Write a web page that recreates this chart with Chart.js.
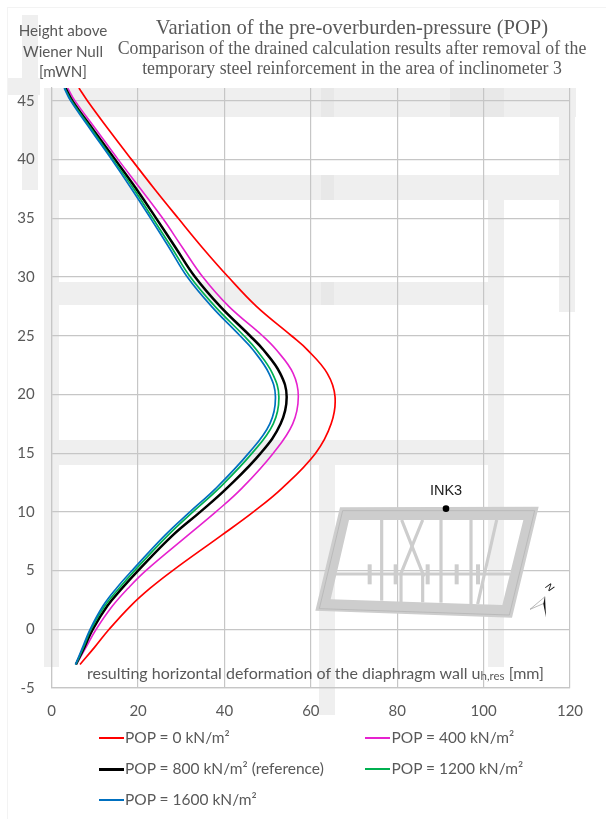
<!DOCTYPE html>
<html>
<head>
<meta charset="utf-8">
<title>Variation of the pre-overburden-pressure (POP)</title>
<script src="https://cdn.jsdelivr.net/npm/chart.js@4/dist/chart.umd.min.js"></script>
<style>
  html, body { margin: 0; padding: 0; background: #fff; }
  #page { position: relative; width: 606px; height: 819px; overflow: hidden; color: #595959; font-family: Lato, sans-serif; }
  #page canvas { position: absolute; left: 0; top: 0; }
  .label { position: absolute; white-space: nowrap; line-height: 1; }
  .head { font-family: "Liberation Serif", serif; transform: translateX(-50%); left: 352px; }
  .legend-line { position: absolute; height: 2px; width: 25px; }
  sub { font-size: 0.72em; vertical-align: -0.1em; line-height: 0; }
</style>
</head>
<body>
<div id="page">
  <canvas id="chart" width="606" height="819"></canvas>
  <div class="label head" style="top:17px;font-size:20.6px">Variation of the pre-overburden-pressure (POP)</div>
  <div class="label head" style="top:40px;font-size:17.8px">Comparison of the drained calculation results after removal of the</div>
  <div class="label head" style="top:60px;font-size:17.8px">temporary steel reinforcement in the area of inclinometer 3</div>
  <div class="label" style="left:63px;top:20px;font-size:15.2px;transform:translateX(-50%);text-align:center;line-height:20.5px">Height above<br>Wiener Null<br>[mWN]</div>
  <div class="label" style="left:87px;top:665px;font-size:16px">resulting horizontal deformation of the diaphragm wall u<sub>h,res</sub> [mm]</div>
  <div id="legend"></div>
</div>
<script>
// Values, x in mm at the listed heights
const heights = [-3, -1.5, 0, 2, 3.5, 5, 8, 10, 12, 15, 17.5, 19.8, 21.8, 23.8, 25, 27.5, 30, 32.5, 35, 37.5, 40, 42.5, 45, 46.1];
const pop0 = [6.55, 10, 13.3, 18.3, 22.8, 28, 39.3, 46.7, 53.3, 61.1, 64.7, 65.6, 63.8, 59.2, 55.5, 47.4, 40.9, 34.9, 29.3, 23.8, 18.5, 13.3, 8.3, 6.3];
const pop400 = [5.7, 8, 10.3, 14.1, 17.7, 21.8, 31.5, 38, 44, 51.3, 55.8, 57.1, 55.9, 52, 48.8, 41, 35, 30.3, 25.7, 20.6, 15.4, 10.4, 5.4, 3.7];
const pop800 = [5.6, 7.6, 9.5, 12.9, 16.3, 20, 28, 34.4, 40.5, 48.4, 53, 54.4, 52.9, 49, 45.9, 39, 33.2, 28.7, 24.2, 19.6, 14.7, 9.7, 4.8, 3.2];
const pop1200 = [5.6, 7.4, 9.1, 12.3, 15.6, 19.2, 26.9, 32.7, 38.7, 46.4, 51.3, 52.6, 51.1, 47.4, 44.5, 37.8, 32.1, 27.8, 23.4, 19, 14.2, 9.4, 4.6, 3];
const pop1600 = [5.5, 7.2, 8.9, 11.9, 15, 18.6, 26.2, 32, 38, 45.6, 50.5, 51.8, 50.3, 46.6, 43.6, 37, 31.4, 27.2, 22.9, 18.5, 13.9, 9.1, 4.4, 2.9];

const seriesLabels = ['POP = 0 kN/m²', 'POP = 400 kN/m²', 'POP = 800 kN/m² (reference)', 'POP = 1200 kN/m²', 'POP = 1600 kN/m²'];
const seriesValues = [pop0, pop400, pop800, pop1200, pop1600];
const seriesColors = ['#ff0000', '#e622cf', '#000000', '#00b050', '#0070c0'];
const seriesWidths = [1.7, 1.6, 2.5, 1.7, 1.7];

const xTicks = [0, 20, 40, 60, 80, 100, 120];
const yTicks = [-5, 0, 5, 10, 15, 20, 25, 30, 35, 40, 45];

const GRID = '#c6c6c6';
const WASH = '#efefef';

// Faint building plan behind the chart
const planBackground = {
  id: 'planBackground',
  beforeDraw(chart) {
    const ctx = chart.ctx;
    ctx.save();
    ctx.fillStyle = '#f3f3f3';
    ctx.fillRect(7, 7, 599, 1);
    ctx.fillRect(7, 7, 1, 812);
    ctx.fillStyle = WASH;
    [
      [52, 88, 524, 29], [22, 15, 16, 175], [8, 78, 32, 17],
      [59, 175, 501, 25], [59, 282, 431, 23], [59, 440, 429, 25],
      [44, 88, 15, 579], [488, 200, 16, 467], [319, 440, 16, 275], [559, 88, 16, 224]
    ].forEach(r => ctx.fillRect(r[0], r[1], r[2], r[3]));
    ctx.fillStyle = '#e8e8e8';
    [[321, 88, 13, 29], [450, 88, 54, 29], [321, 175, 13, 25], [321, 282, 13, 23]]
      .forEach(r => ctx.fillRect(r[0], r[1], r[2], r[3]));
    ctx.restore();
  }
};

// Location sketch of the excavation with the inclinometer position
const locationSketch = {
  id: 'locationSketch',
  beforeDatasetsDraw(chart) {
    const ctx = chart.ctx;
    const px = x => 300 + x / 3;
    const py = y => 470 + y / 3;
    const poly = pts => {
      ctx.moveTo(px(pts[0][0]), py(pts[0][1]));
      pts.slice(1).forEach(p => ctx.lineTo(px(p[0]), py(p[1])));
      ctx.closePath();
    };
    ctx.save();

    ctx.beginPath();
    poly([[120, 112], [716, 110], [636, 443], [46, 422]]);
    poly([[147, 150], [92, 388], [607, 405], [670, 150]]);
    ctx.fillStyle = '#cdcdcd';
    ctx.fill();
    ctx.strokeStyle = '#b5b5b5';
    ctx.lineWidth = 0.8;
    ctx.beginPath();
    poly([[128, 122], [704, 122], [628, 435], [58, 416]]);
    ctx.stroke();

    ctx.strokeStyle = '#cdcdcd';
    ctx.lineWidth = 3.2;
    [
      [245, 150, 245, 392], [423, 150, 423, 398], [513, 150, 513, 402],
      [303, 310, 303, 396], [368, 310, 368, 397], [108, 312, 630, 312],
      [305, 150, 372, 320], [368, 150, 303, 310], [590, 150, 533, 402]
    ].forEach(l => {
      ctx.beginPath();
      ctx.moveTo(px(l[0]), py(l[1]));
      ctx.lineTo(px(l[2]), py(l[3]));
      ctx.stroke();
    });
    ctx.fillStyle = '#cdcdcd';
    [203, 281, 377, 464, 528].forEach(x => ctx.fillRect(px(x), py(283), 4, 20));

    ctx.fillStyle = '#000';
    ctx.beginPath();
    ctx.arc(px(438), py(116), 3.3, 0, Math.PI * 2);
    ctx.fill();
    ctx.font = '14.5px "Liberation Sans", sans-serif';
    ctx.fillStyle = '#222';
    ctx.textAlign = 'center';
    ctx.textBaseline = 'middle';
    ctx.fillText('INK3', px(438), py(62));

    ctx.beginPath();
    poly([[735, 380], [690, 418], [732, 400]]);
    ctx.fillStyle = '#fff';
    ctx.fill();
    ctx.strokeStyle = '#999';
    ctx.lineWidth = 0.7;
    ctx.stroke();
    ctx.beginPath();
    poly([[735, 380], [730, 402], [738, 442]]);
    ctx.fillStyle = '#111';
    ctx.fill();
    ctx.save();
    ctx.translate(px(748), py(353));
    ctx.rotate(0.75);
    ctx.font = 'italic 10px "Liberation Sans", sans-serif';
    ctx.fillText('N', 0, 0);
    ctx.restore();
    ctx.restore();
  }
};

new Chart(document.getElementById('chart'), {
  type: 'scatter',
  data: {
    datasets: seriesLabels.map((label, i) => ({
      label,
      data: heights.map((h, j) => ({ x: seriesValues[i][j], y: h })),
      showLine: true,
      tension: 0.4,
      pointRadius: 0,
      borderColor: seriesColors[i],
      borderWidth: seriesWidths[i],
      order: seriesLabels.length - i
    }))
  },
  options: {
    responsive: false,
    animation: false,
    layout: { padding: { top: 88, right: 36, left: 0, bottom: 0 } },
    plugins: { legend: { display: false }, title: { display: false }, tooltip: { enabled: false } },
    scales: {
      x: {
        type: 'linear',
        min: 0,
        max: 120,
        afterBuildTicks: axis => { axis.ticks = xTicks.map(value => ({ value })); },
        afterFit: axis => { axis.height = 131; },
        grid: { color: GRID, lineWidth: 1.2, drawTicks: false },
        border: { color: GRID, width: 1.2 },
        ticks: { color: '#595959', font: { family: 'Lato', size: 15 }, padding: 14, maxRotation: 0 }
      },
      y: {
        type: 'linear',
        min: -5,
        max: 46.1,
        afterBuildTicks: axis => { axis.ticks = yTicks.map(value => ({ value })); },
        afterFit: axis => { axis.width = 51.7; },
        grid: { color: GRID, lineWidth: 1.2, drawTicks: false },
        border: { color: GRID, width: 1.2 },
        ticks: { color: '#595959', font: { family: 'Lato', size: 15 }, padding: 17 }
      }
    }
  },
  plugins: [planBackground, locationSketch]
});

// Two column legend, filled row by row
const legend = document.getElementById('legend');
seriesLabels.forEach((label, i) => {
  const left = i % 2 === 0 ? 98.5 : 365;
  const top = 738 + Math.floor(i / 2) * 31;
  const line = document.createElement('div');
  line.className = 'legend-line';
  line.style.left = left + 'px';
  line.style.top = (top - 1) + 'px';
  line.style.background = seriesColors[i];
  line.style.height = Math.round(seriesWidths[i]) + 'px';
  const text = document.createElement('div');
  text.className = 'label';
  text.textContent = label;
  text.style.left = (left + 26.5) + 'px';
  text.style.top = (top - 8) + 'px';
  text.style.fontSize = '15.5px';
  legend.appendChild(line);
  legend.appendChild(text);
});
</script>
</body>
</html>
